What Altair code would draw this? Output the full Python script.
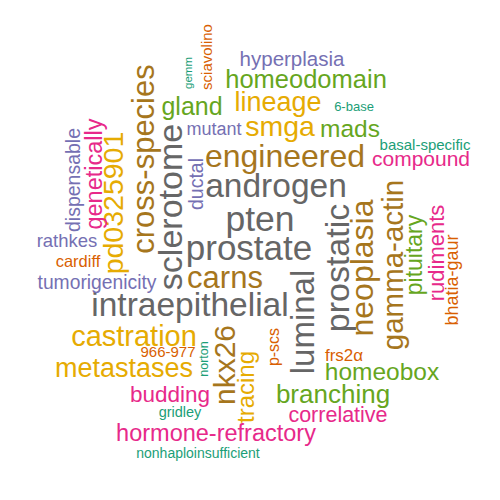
import altair as alt
import pandas as pd

# word cloud layout: word, centre in layout coordinates, font size, rotated flag, frequency group
words = [
    "pten", "prostate", "androgen", "intraepithelial", "sclerotome", "luminal", "prostatic",
    "engineered", "cross-species", "neoplasia", "gamma-actin", "carns", "nkx26",
    "lineage", "smga", "pd0325901", "castration", "metastases", "tracing",
    "homeodomain", "gland", "mads", "branching", "homeobox", "pituitary",
    "genetically", "compound", "rudiments", "budding", "correlative", "hormone-refractory",
    "hyperplasia", "mutant", "ductal", "dispensable", "rathkes", "tumorigenicity",
    "sciavolino", "cardiff", "966-977", "p-scs", "frs2α", "bhatia-gaur",
    "gemm", "6-base", "basal-specific", "norton", "gridley", "nonhaploinsufficient",
]
pos_x = [
    260, 249, 276, 190, 172, 304, 339,
    285, 145, 363, 394, 225, 226,
    278, 280, 114, 134, 124, 247,
    306, 192, 350, 333, 382, 415,
    95, 421, 437, 170, 338, 216,
    292, 214, 197, 74, 67, 97,
    207, 78, 168, 274, 344, 453,
    189, 354, 425, 204, 180, 198,
]
pos_y = [
    220, 249, 187, 306, 207, 322, 268,
    157, 159, 268, 265, 279, 365,
    103, 127, 203, 337, 369, 387,
    80, 107, 130, 395, 373, 255,
    174, 160, 253, 395, 416, 434,
    60, 130, 184, 180, 241, 283,
    57, 262, 352, 347, 356, 280,
    73, 107, 145, 359, 413, 454,
]
font_size = [
    35.5, 35, 33.5, 33.5, 34, 33, 34,
    32, 31, 32, 29.5, 31, 30,
    27, 28.5, 28.5, 29, 27, 24,
    25.5, 25, 24.5, 26, 24.5, 23,
    23.5, 21, 22, 22.5, 21.5, 23.5,
    20.5, 18, 19.5, 19.5, 18.5, 19.3,
    15, 16.5, 15, 16, 17, 18,
    11.5, 13, 15, 12.5, 14.5, 14,
]
rotated = [
    0, 0, 0, 0, 1, 1, 1,
    0, 1, 1, 1, 0, 1,
    0, 0, 1, 0, 0, 1,
    0, 0, 0, 0, 0, 1,
    1, 0, 1, 0, 0, 0,
    0, 0, 1, 1, 0, 0,
    1, 0, 0, 1, 0, 1,
    1, 0, 0, 1, 0, 0,
]
group = [8] * 7 + [7] * 6 + [6] * 6 + [5] * 6 + [4] * 6 + [3] * 6 + [2] * 6 + [1] * 6

dark2 = ["#1b9e77", "#d95f02", "#7570b3", "#e7298a", "#66a61e", "#e6ab02", "#a6761d", "#666666"]

df = pd.DataFrame({
    "word": words,
    "x": pos_x,
    "y": pos_y,
    "size": font_size,
    "angle": [270 if r else 0 for r in rotated],
    "group": group,
})

chart = (
    alt.Chart(df)
    .mark_text(font="Liberation Sans", align="center", baseline="middle")
    .encode(
        x=alt.X("x:Q", scale=alt.Scale(domain=[8, 492]), axis=None),
        y=alt.Y("y:Q", scale=alt.Scale(domain=[492, 8]), axis=None),
        text="word:N",
        size=alt.Size("size:Q", scale=None, legend=None),
        angle=alt.Angle("angle:Q", scale=None),
        color=alt.Color(
            "group:O",
            scale=alt.Scale(domain=list(range(1, 9)), range=dark2),
            legend=None,
        ),
    )
    .properties(width=484, height=484, autosize=alt.AutoSizeParams(type="none"), padding=0)
    .configure_view(strokeWidth=0)
    .configure_axis(domain=False, grid=False, ticks=False, labels=False)
)

chart.save("out.html", embed_options={"renderer": "svg", "actions": False})
